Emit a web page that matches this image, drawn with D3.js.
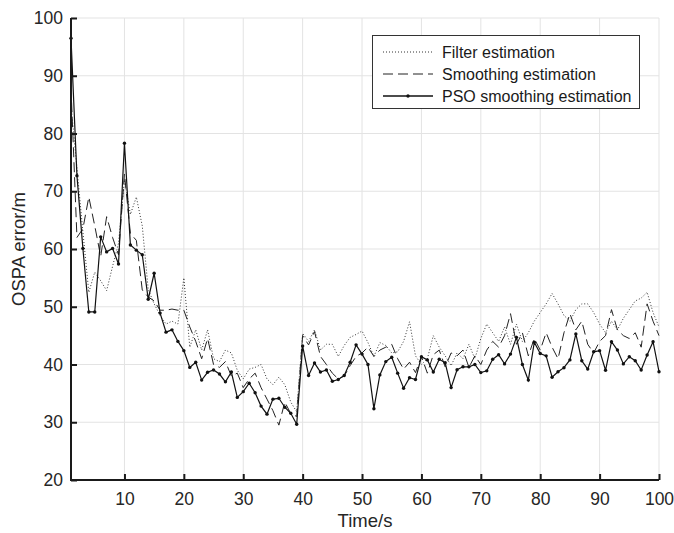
<!DOCTYPE html>
<html>
<head>
<meta charset="utf-8">
<script src="https://cdn.jsdelivr.net/npm/d3@7"></script>
<style>
  body { margin: 0; background: #fff; }
  svg text { font-family: "Liberation Sans", Arial, sans-serif; }
</style>
</head>
<body>
<div class="chart-container"></div>
<script>
const width = 674, height = 533;

// OSPA error per time step (t = 1..100)
const filterEst = [85, 74, 63, 52.5, 56, 54.5, 52.8, 57, 61, 72,
  66, 69, 64, 53, 50.5, 48.5, 47, 47.5, 47, 55,
  43, 46, 42.5, 46, 41, 40.5, 42.5, 42, 39, 37.5,
  39.2, 39.5, 40, 37.5, 36.5, 37.8, 36.5, 33.5, 31.8, 45.4,
  44, 46, 42.5, 43.5, 43.5, 41.4, 43.3, 44.7, 45.2, 45.8,
  43.8, 41.4, 43.8, 43.3, 42, 42.2, 44, 47.4, 41.5, 40,
  41, 45, 43, 41.5, 39.8, 42, 41, 43.5, 41, 44.5,
  47, 45.5, 44, 46.5, 43.5, 47, 44, 45.5, 47.5, 49,
  50.5, 52.3, 50.5, 48.5, 47.5, 49.5, 50.5, 50.5, 49, 47,
  45.5, 47.5, 46, 48, 49.5, 51, 51.5, 52.5, 49, 46.5];

const smoothEst = [88, 62, 63.5, 69, 64, 58.7, 65.6, 62, 59, 73,
  62.7, 61.5, 52.9, 51.7, 51, 49.4, 49.4, 49.6, 49.4, 49.4,
  46.5, 44, 41, 44.5, 40, 39.5, 40.5, 38, 38.5, 36,
  37.5, 38.5, 36, 34, 32, 29.5, 33.5, 31.5, 31, 45,
  43.4, 45.7, 41.4, 40, 38.5, 37.5, 38, 39.8, 41.4, 42,
  43, 41.4, 42.5, 43, 43.5, 41, 39.2, 40.4, 38.6, 41.4,
  38.5, 41.7, 42.5, 39.6, 42, 41.5, 42.5, 39.5, 41.5, 40,
  42.5, 44, 43, 45, 48.8, 43.5, 45.5, 41.5, 44.5, 42.5,
  45.5, 43, 41, 45.5, 48.8, 46, 47.5, 43.5, 42, 44,
  45, 49.5, 46, 45, 44.5, 45.5, 43, 50.5, 47.5, 45];

const psoEst = [96.5, 72.7, 60.1, 49.1, 49.1, 62.1, 59.5, 60.1, 57.4, 78.3,
  60.7, 59.8, 59.0, 51.3, 55.8, 48.9, 45.6, 46.0, 44.0, 42.4,
  39.5, 40.4, 37.3, 38.65, 39.05, 38.35, 37.0, 38.7, 34.3, 35.3,
  36.75, 35.1, 32.8, 31.4, 34.0, 34.15, 32.6, 31.55, 29.65, 43.2,
  38.1, 40.25, 38.7, 39.05, 37.1, 37.4, 38.1, 40.4, 43.4, 41.8,
  40.0, 32.35, 38.2, 40.5, 41.25, 38.5, 35.9, 37.7, 37.4, 41.35,
  40.8, 38.7, 40.9, 40.3, 36.0, 39.1, 39.6, 39.6, 40.0, 38.6,
  38.9, 40.9, 41.7, 40.1, 41.8, 44.7, 40.0, 37.3, 43.85, 41.9,
  41.5, 37.8, 38.75, 39.45, 40.8, 45.3, 40.65, 39.2, 42.2, 42.4,
  39.0, 43.95, 42.5, 40.1, 41.35, 40.65, 39.05, 41.65, 43.95, 38.75];

const xTicks = [10, 20, 30, 40, 50, 60, 70, 80, 90, 100];
const yTicks = [20, 30, 40, 50, 60, 70, 80, 90, 100];
const seriesNames = ["Filter estimation", "Smoothing estimation", "PSO smoothing estimation"];

const margin = {left: 71, right: 15, top: 18, bottom: 53};

var svg = d3.select(".chart-container")
    .append("svg")
    .attr("width", width)
    .attr("height", height);

var x = d3.scaleLinear().domain([1, 100]).range([margin.left, width - margin.right]);
var y = d3.scaleLinear().domain([20, 100]).range([height - margin.bottom, margin.top]);

// grid
var grid = svg.append("g");
grid.selectAll("line.gx")
    .data(xTicks)
    .enter().append("line")
    .attr("x1", d => x(d)).attr("x2", d => x(d))
    .attr("y1", y(20)).attr("y2", y(100))
    .attr("stroke", "#e3e3e3").attr("stroke-width", 1);
grid.selectAll("line.gy")
    .data(yTicks.slice(1))
    .enter().append("line")
    .attr("x1", x(1)).attr("x2", x(100))
    .attr("y1", d => y(d)).attr("y2", d => y(d))
    .attr("stroke", "#e3e3e3").attr("stroke-width", 1);

// series
const series = [
  {vals: filterEst, dash: "1,2", w: 1, col: "#333"},
  {vals: smoothEst, dash: "10,5", w: 1, col: "#222"},
  {vals: psoEst, dash: null, w: 1.2, col: "#111"}
];

var line = d3.line().x((d, i) => x(i + 1)).y(d => y(d));

series.forEach(s => {
  svg.append("path")
    .datum(s.vals)
    .attr("d", line)
    .attr("fill", "none")
    .attr("stroke", s.col)
    .attr("stroke-width", s.w)
    .attr("stroke-dasharray", s.dash);
});

svg.append("g").selectAll("circle")
    .data(psoEst)
    .enter().append("circle")
    .attr("cx", (d, i) => x(i + 1))
    .attr("cy", d => y(d))
    .attr("r", 1.7)
    .attr("fill", "#111");

// axes, ticks pointing inward
var xAxis = svg.append("g")
    .attr("transform", "translate(0," + y(20) + ")")
    .call(d3.axisBottom(x).tickValues(xTicks).tickSizeInner(-6).tickSizeOuter(0).tickPadding(13));
var yAxis = svg.append("g")
    .attr("transform", "translate(" + x(1) + ",0)")
    .call(d3.axisLeft(y).tickValues(yTicks).tickSizeInner(-6).tickSizeOuter(0).tickPadding(8));

[xAxis, yAxis].forEach(a => {
  a.select(".domain").attr("stroke", "#1a1a1a").attr("stroke-width", 2);
  a.selectAll(".tick line").attr("stroke", "#1a1a1a").attr("stroke-width", 2);
  a.selectAll(".tick text").attr("fill", "#262626").style("font-size", "17.5px");
});
yAxis.select(".domain").attr("d", "M0," + (y(20) + 1) + "V" + y(100));
xAxis.select(".domain").attr("d", "M" + (x(1) - 1) + ",0H" + x(100));

svg.append("text")
    .attr("x", (x(1) + x(100)) / 2)
    .attr("y", 527)
    .attr("text-anchor", "middle")
    .attr("fill", "#262626")
    .style("font-size", "18.5px")
    .text("Time/s");

svg.append("text")
    .attr("transform", "translate(25," + ((y(20) + y(100)) / 2) + ") rotate(-90)")
    .attr("text-anchor", "middle")
    .attr("fill", "#262626")
    .style("font-size", "18.5px")
    .text("OSPA error/m");

// legend
var legend = svg.append("g");
legend.append("rect")
    .attr("x", 372.5).attr("y", 35.5)
    .attr("width", 267).attr("height", 73)
    .attr("fill", "#fff")
    .attr("stroke", "#333").attr("stroke-width", 1);

seriesNames.forEach((name, i) => {
  var ly = 52 + i * 22;
  legend.append("line")
    .attr("x1", 383).attr("x2", 433)
    .attr("y1", ly).attr("y2", ly)
    .attr("stroke", series[i].col)
    .attr("stroke-width", i == 2 ? 1.5 : 1)
    .attr("stroke-dasharray", series[i].dash);
  if (i == 2) {
    legend.append("circle").attr("cx", 408).attr("cy", ly).attr("r", 1.7).attr("fill", "#111");
  }
  legend.append("text")
    .attr("x", 442).attr("y", ly + 5.5)
    .attr("fill", "#1a1a1a")
    .style("font-size", "16px")
    .text(name);
});
</script>
</body>
</html>
